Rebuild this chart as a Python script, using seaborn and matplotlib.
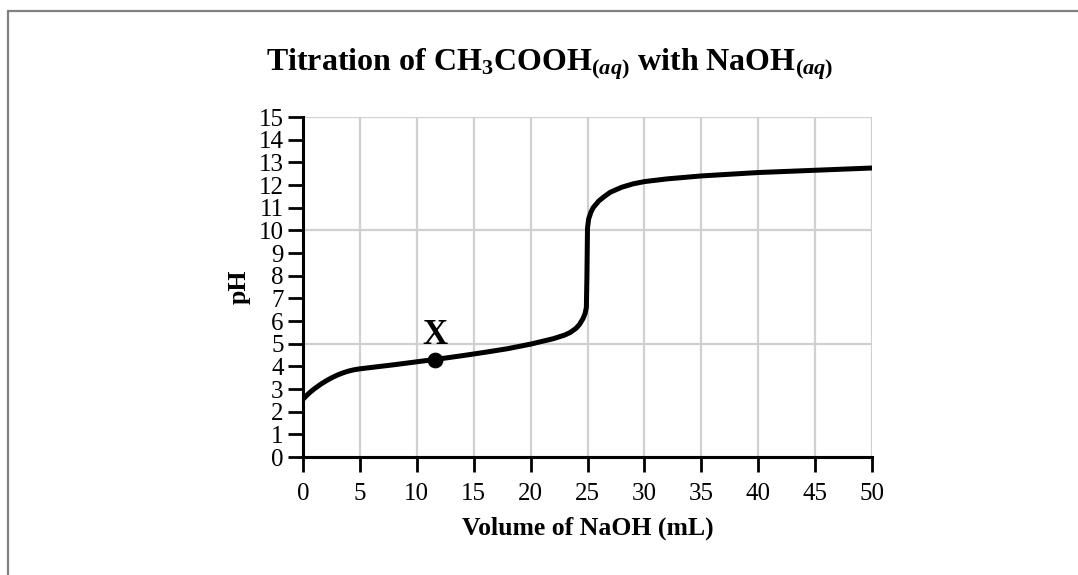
import matplotlib
matplotlib.use("Agg")
import matplotlib.pyplot as plt
import numpy as np
import pandas as pd
import seaborn as sns
from matplotlib.patches import Rectangle

# values
volume_ml = [0, 0.25, 0.5, 0.75, 1, 1.25, 1.5, 2, 2.5, 3, 3.5, 4, 4.5, 5, 6,
             8, 10, 12, 14, 16, 18, 20, 21, 22, 22.5, 23, 23.5, 24, 24.3,
             24.6, 24.8, 24.9, 24.95, 25.0, 25.1, 25.3, 25.5, 26, 26.5, 27,
             28, 29, 30, 32, 35, 40, 45, 50]
ph = [2.55, 2.68, 2.8, 2.91, 3.01, 3.1, 3.19, 3.35, 3.49, 3.61, 3.71, 3.79,
      3.85, 3.89, 3.95, 4.07, 4.2, 4.33, 4.47, 4.62, 4.78, 4.98, 5.1, 5.22,
      5.3, 5.38, 5.5, 5.68, 5.85, 6.1, 6.35, 6.6, 8.0, 10.1, 10.5, 10.8, 11.0,
      11.3, 11.5, 11.68, 11.9, 12.05, 12.15, 12.27, 12.4, 12.55, 12.65, 12.75]

point_x = [11.6]
point_y = [4.3]
point_label = "X"

x_ticks = list(range(0, 51, 5))
y_ticks = list(range(0, 16))
x_grid = list(range(0, 51, 5))
y_grid = [0, 5, 10, 15]

title = r"Titration of CH$_3$COOH$_{\mathit{(aq)}}$ with NaOH$_{\mathit{(aq)}}$"
x_label = "Volume of NaOH (mL)"
y_label = "pH"

df = pd.DataFrame({"volume": volume_ml, "ph": ph})
pt = pd.DataFrame({"volume": point_x, "ph": point_y})

sns.set_theme(style="ticks")
plt.rcParams["font.family"] = ["Liberation Serif", "DejaVu Serif"]
plt.rcParams["text.color"] = "black"
plt.rcParams["axes.labelcolor"] = "black"
plt.rcParams["xtick.color"] = "black"
plt.rcParams["ytick.color"] = "black"
plt.rcParams["mathtext.fontset"] = "custom"
plt.rcParams["mathtext.rm"] = "Liberation Serif:bold"
plt.rcParams["mathtext.it"] = "Liberation Serif:bold:italic"
plt.rcParams["mathtext.bf"] = "Liberation Serif:bold"

fig = plt.figure(figsize=(10.78, 5.75), dpi=100)
ax = fig.add_axes([303 / 1078, 1 - 457 / 575, 569 / 1078, 340 / 575])

# outer frame (top and left edges only visible)
fig.patches.append(Rectangle((8 / 1078, -0.5), 2.0, 0.5 + (1 - 11 / 575),
                             transform=fig.transFigure, fill=False,
                             edgecolor="#808080", linewidth=1.6))

for gx in x_grid:
    ax.axvline(gx, color="#d0d0d0", lw=1.6, zorder=0)
for gy in y_grid:
    ax.axhline(gy, color="#d0d0d0", lw=1.6, zorder=0)

sns.lineplot(data=df, x="volume", y="ph", ax=ax, color="black", lw=3.6,
             estimator=None, sort=False, solid_capstyle="butt",
             solid_joinstyle="round", zorder=3)
sns.scatterplot(data=pt, x="volume", y="ph", ax=ax, color="black", s=110,
                edgecolor="black", zorder=4)
ax.text(point_x[0], point_y[0] + 0.35, point_label, ha="center", va="bottom",
        fontsize=25, fontweight="bold")

ax.set_xlim(0, 50)
ax.set_ylim(0, 15)
ax.set_xticks(x_ticks)
ax.set_yticks(y_ticks)
ax.tick_params(axis="both", length=11, width=2, color="black",
               labelsize=18, labelcolor="black")
ax.tick_params(axis="x", pad=8)
ax.tick_params(axis="y", pad=3)
for side in ["top", "right"]:
    ax.spines[side].set_visible(False)
for side in ["left", "bottom"]:
    ax.spines[side].set_linewidth(2.2)
    ax.spines[side].set_color("black")

ax.set_xlabel(x_label, fontsize=18.5, fontweight="bold", labelpad=8)
ax.set_ylabel(y_label, fontsize=18.5, fontweight="bold", labelpad=6)
fig.text(550 / 1078, 1 - 64 / 575, title, ha="center", va="center",
         fontsize=23, fontweight="bold")

fig.savefig("out.png", dpi=100)
